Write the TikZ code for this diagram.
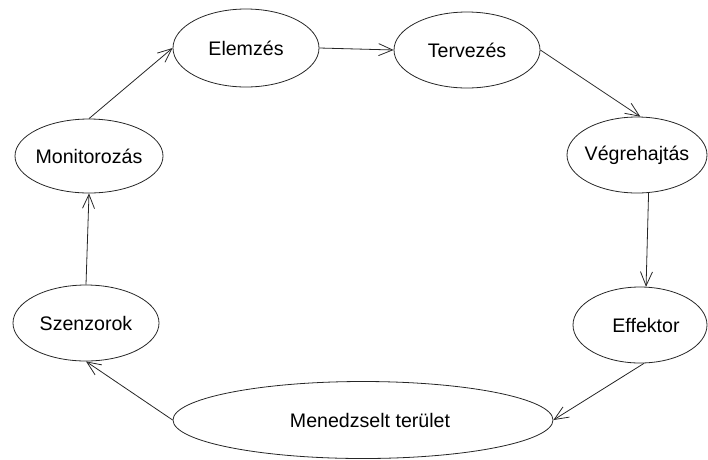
\documentclass[tikz,border=0pt]{standalone}
\usepackage{fontspec}
\setmainfont{Liberation Sans}
\usetikzlibrary{shapes.geometric,arrows.meta}
\begin{document}
\begin{tikzpicture}[x=1pt,y=-1pt,
  state/.style={draw=black!85,line width=0.8pt,ellipse,inner sep=0pt,
    font=\fontsize{19.6}{22}\selectfont},
  flow/.style={draw=black!85,line width=0.8pt,-{Straight Barb[length=14pt,width=12pt,line width=0.8pt]}}]
\useasboundingbox (0,0) rectangle (708,459);
\node[state,minimum width=146pt,minimum height=78pt] (ele) at (246,48) {\makebox[0pt]{Elemzés}};
\node[state,minimum width=146pt,minimum height=76pt] (ter) at (467,50) {\makebox[0pt]{Tervezés}};
\node[state,minimum width=140pt,minimum height=76pt] (vh) at (637,155) {\makebox[0pt]{Végrehajtás}};
\node[state,minimum width=148pt,minimum height=74pt] (mon) at (89,156) {\makebox[0pt]{Monitorozás}};
\node[state,minimum width=146pt,minimum height=76pt] (sz) at (86,323) {\makebox[0pt]{Szenzorok}};
\node[state,minimum width=134pt,minimum height=76pt] (ef) at (640,325) {\makebox[0pt]{\hspace{12pt}Effektor}};
\node[state,minimum width=380pt,minimum height=77pt] (men) at (363,420) {\makebox[0pt]{\hspace{14pt}Menedzselt terület}};
\draw[flow] (mon.north) -- (ele.west);
\draw[flow] (ele.east) -- (ter.west);
\draw[flow] (ter.east) -- (vh.85);
\draw[flow] (vh.-73) -- (ef.81);
\draw[flow] (ef.-84) -- (men.east);
\draw[flow] (men.west) -- (sz.south);
\draw[flow] (sz.north) -- (mon.south);
\end{tikzpicture}
\end{document}
